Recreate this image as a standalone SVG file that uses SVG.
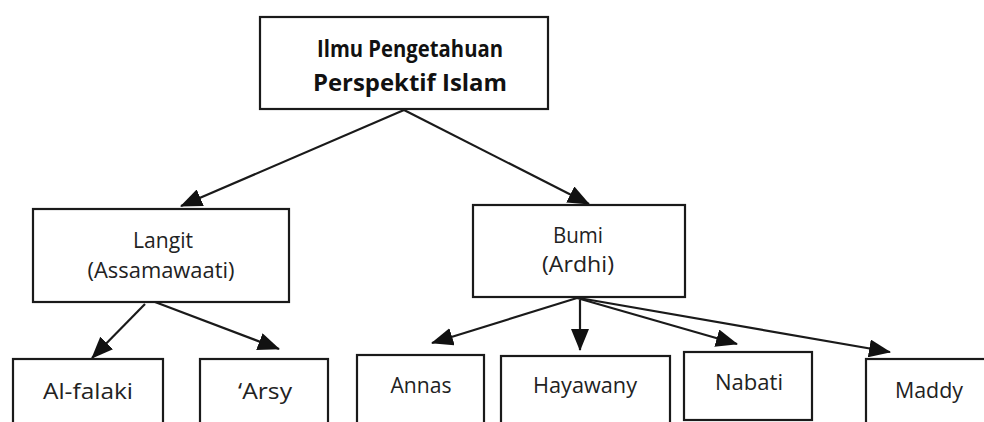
<svg xmlns="http://www.w3.org/2000/svg" width="984" height="422" viewBox="0 0 984 422">
<defs>
<style>
.box{fill:#fff;stroke:#1a1a1a;stroke-width:2.2}
.t{font-family:"Open Sans","Noto Sans","Liberation Sans",sans-serif;font-size:21px;fill:#222;text-anchor:middle}
.b{font-weight:bold;font-size:23px;fill:#111}
.c{fill:none;stroke:#1a1a1a;stroke-width:2.2}
</style>
<marker id="ah" markerUnits="userSpaceOnUse" markerWidth="22" markerHeight="18" refX="21" refY="9" orient="auto">
<path d="M0,0 L22,9 L0,18 z" fill="#111"/>
</marker>
</defs>
<rect width="984" height="422" fill="#fff"/>
<g id="connectors">
<line class="c" x1="404" y1="110" x2="181" y2="206" marker-end="url(#ah)"/>
<line class="c" x1="404" y1="110" x2="589" y2="204" marker-end="url(#ah)"/>
<line class="c" x1="145" y1="304" x2="92" y2="358" marker-end="url(#ah)"/>
<line class="c" x1="155" y1="302" x2="279" y2="349" marker-end="url(#ah)"/>
<line class="c" x1="577" y1="298" x2="432" y2="343" marker-end="url(#ah)"/>
<line class="c" x1="580" y1="300" x2="580" y2="350" marker-end="url(#ah)"/>
<line class="c" x1="577" y1="298" x2="737" y2="344" marker-end="url(#ah)"/>
<line class="c" x1="579" y1="298" x2="890" y2="352" marker-end="url(#ah)"/>
</g>
<g id="root">
<rect class="box" x="260" y="17" width="288" height="92"/>
<text class="t b" x="410" y="57" textLength="186" lengthAdjust="spacingAndGlyphs">Ilmu Pengetahuan</text>
<text class="t b" x="410" y="91" textLength="194" lengthAdjust="spacingAndGlyphs">Perspektif  Islam</text>
</g>
<g id="langit">
<rect class="box" x="33" y="209" width="256" height="93"/>
<text class="t" x="163" y="248" textLength="60" lengthAdjust="spacingAndGlyphs">Langit</text>
<text class="t" x="161" y="278" textLength="147" lengthAdjust="spacingAndGlyphs">(Assamawaati)</text>
</g>
<g id="bumi">
<rect class="box" x="473" y="205" width="212" height="92"/>
<text class="t" x="578" y="243" textLength="50" lengthAdjust="spacingAndGlyphs">Bumi</text>
<text class="t" x="578" y="272" textLength="72" lengthAdjust="spacingAndGlyphs">(Ardhi)</text>
</g>
<g id="alfalaki">
<rect class="box" x="13" y="359" width="150" height="80"/>
<text class="t" x="88" y="399" textLength="90" lengthAdjust="spacingAndGlyphs">Al-falaki</text>
</g>
<g id="arsy">
<rect class="box" x="200" y="359" width="128" height="80"/>
<text class="t" x="265" y="399" textLength="54" lengthAdjust="spacingAndGlyphs">‘Arsy</text>
</g>
<g id="annas">
<rect class="box" x="357" y="355" width="127" height="80"/>
<text class="t" x="421" y="393" textLength="61" lengthAdjust="spacingAndGlyphs">Annas</text>
</g>
<g id="hayawany">
<rect class="box" x="501" y="356" width="169" height="80"/>
<text class="t" x="585" y="393" textLength="104" lengthAdjust="spacingAndGlyphs">Hayawany</text>
</g>
<g id="nabati">
<rect class="box" x="684" y="352" width="128" height="68"/>
<text class="t" x="749" y="390" textLength="68" lengthAdjust="spacingAndGlyphs">Nabati</text>
</g>
<g id="maddy">
<rect class="box" x="866" y="359" width="140" height="80"/>
<text class="t" x="929" y="398" textLength="68" lengthAdjust="spacingAndGlyphs">Maddy</text>
</g>
</svg>
